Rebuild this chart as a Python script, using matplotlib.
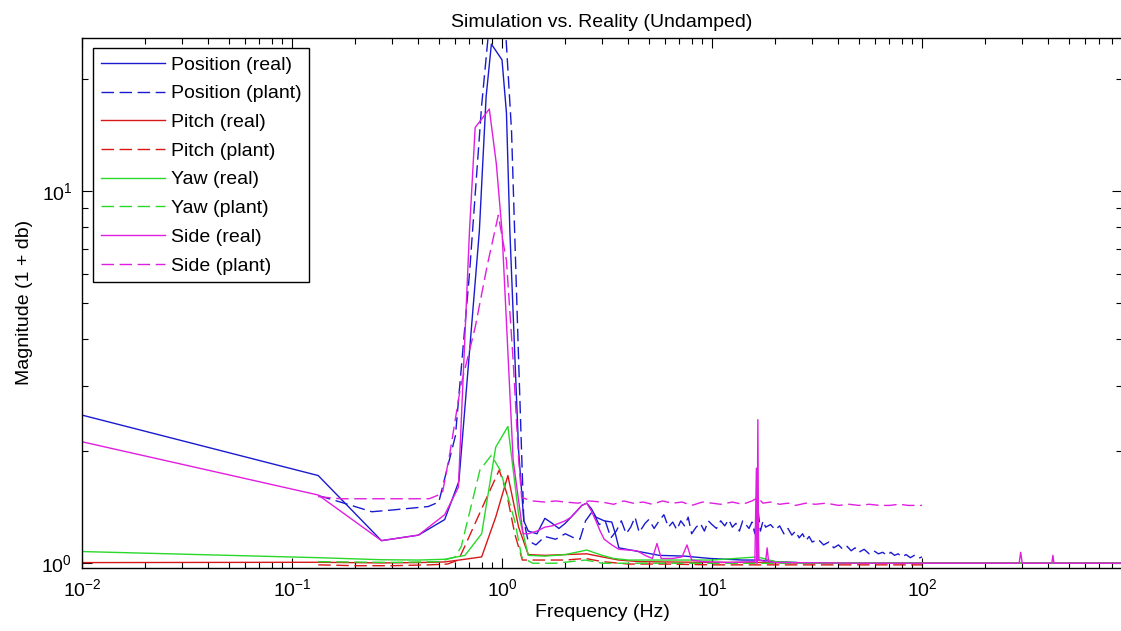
import numpy as np
import matplotlib
matplotlib.use("Agg")
import matplotlib.pyplot as plt
from matplotlib.ticker import LogLocator, NullFormatter

plt.rcParams['font.family'] = ['Liberation Sans', 'DejaVu Sans']
plt.rcParams['mathtext.default'] = 'regular'

# ============================================================
# DATA
# ============================================================
pos_real_f = [0.01, 0.1333, 0.2667, 0.4, 0.5333, 0.6233, 0.78, 0.84, 0.89, 1.0, 1.05, 1.09,
              1.2, 1.27, 1.3333, 1.4667, 1.6, 1.7333, 1.8667, 2.0, 2.1333, 2.2667, 2.4,
              2.5333, 2.6667, 2.8, 3.0667, 3.3333, 3.4667, 3.6, 4.1, 4.9, 5.6, 7.4, 9.8,
              14, 16.4, 16.53, 16.67, 20, 30, 50, 100, 200, 400, 896]
pos_real_m = [2.50, 1.72, 1.15, 1.19, 1.31, 1.66, 7.8, 17.9, 24.8, 22.5, 16.2, 7.8,
              2.0, 1.3, 1.22, 1.2, 1.32, 1.28, 1.24, 1.28, 1.33, 1.38, 1.43,
              1.45, 1.4, 1.33, 1.3, 1.29, 1.2, 1.1, 1.085, 1.065, 1.05, 1.045, 1.03,
              1.02, 1.02, 1.38, 1.02, 1.01, 1.0, 1.0, 1.0, 1.0, 1.0, 1.0]

pos_plant_f = [0.1333, 0.17, 0.24, 0.30, 0.445, 0.5, 0.6, 0.7, 0.8, 0.88, 0.97, 1.04, 1.11,
               1.2, 1.27, 1.33, 1.45, 1.6, 1.8, 2.0, 2.2, 2.35, 2.5, 2.7, 2.9, 3.1, 3.3,
               3.5, 3.7, 3.9, 4.1, 4.3, 4.5, 4.8, 5.0, 5.3, 5.6, 5.9, 6.2, 6.5, 6.8, 7.1,
               7.4, 7.7, 8.0, 8.4, 8.8, 9.2, 9.6, 10.0, 10.5, 11.0, 11.5, 12.0, 12.5, 13.0,
               13.5, 14.0, 14.5, 15.0, 15.5, 16.0, 16.5, 17.0, 17.5, 18, 19, 20, 21, 22,
               23, 24, 25, 26, 27, 28, 29, 30, 32, 34, 36, 38, 40, 42, 44, 46, 48, 50,
               53, 56, 59, 62, 65, 68, 71, 74, 77, 80, 84, 88, 92, 96, 100]
pos_plant_m = [1.52, 1.46, 1.375, 1.39, 1.42, 1.46, 2.2, 6.0, 17, 30, 32, 27, 14.5,
               3.5, 1.3, 1.15, 1.12, 1.18, 1.16, 1.2, 1.17, 1.16, 1.3, 1.38, 1.27, 1.3, 1.17,
               1.22, 1.3, 1.2, 1.25, 1.33, 1.21, 1.28, 1.31, 1.24, 1.3, 1.35, 1.25, 1.29, 1.23, 1.3,
               1.26, 1.33, 1.2, 1.25, 1.28, 1.22, 1.3, 1.27, 1.24, 1.3, 1.26, 1.31, 1.25, 1.28,
               1.22, 1.3, 1.27, 1.24, 1.29, 1.2, 1.42, 1.22, 1.3, 1.25, 1.27, 1.23, 1.26, 1.2,
               1.24, 1.19, 1.22, 1.17, 1.2, 1.15, 1.18, 1.14, 1.16, 1.12, 1.14, 1.1, 1.12, 1.09,
               1.11, 1.08, 1.1, 1.07, 1.09, 1.06, 1.08, 1.06, 1.07, 1.05, 1.07, 1.05, 1.06, 1.04,
               1.055, 1.035, 1.05, 1.03, 1.04]

pitch_real_f = [0.01, 0.1333, 0.2667, 0.4, 0.5333, 0.6667, 0.8, 0.9333, 1.0667, 1.2, 1.3333,
                1.6, 2.0, 2.5333, 3.0, 3.6, 4.5, 6, 10, 16.5, 20, 50, 100, 896]
pitch_real_m = [1.004, 1.006, 1.002, 1.004, 1.008, 1.025, 1.04, 1.33, 1.72, 1.25, 1.055,
                1.05, 1.055, 1.06, 1.04, 1.02, 1.01, 1.008, 1.005, 1.005, 1.003, 1.0, 1.0, 1.0]

pitch_plant_f = [0.1333, 0.2, 0.3, 0.45, 0.55, 0.62, 0.66, 0.8, 0.97, 1.05, 1.15, 1.25, 1.4,
                 1.7, 2.0, 2.5, 3.0, 4, 6, 10, 20, 50, 100]
pitch_plant_m = [0.99, 0.985, 0.985, 0.99, 0.995, 1.02, 1.1, 1.4, 1.78, 1.55, 1.2, 1.02, 1.02,
                 1.02, 1.02, 1.03, 1.01, 0.995, 0.995, 0.99, 0.99, 0.99, 0.99]

yaw_real_f = [0.01, 0.1333, 0.2667, 0.4, 0.5333, 0.6667, 0.8, 0.9333, 1.0667, 1.2, 1.3333,
              1.6, 2.0, 2.5333, 3.0, 3.4, 4.0, 6, 10, 16.5, 20, 30, 100, 896]
yaw_real_m = [1.075, 1.035, 1.022, 1.02, 1.025, 1.05, 1.2, 2.05, 2.33, 1.35, 1.05,
              1.045, 1.055, 1.085, 1.05, 1.03, 1.02, 1.02, 1.02, 1.04, 1.01, 1.0, 1.0, 1.0]

yaw_plant_f = [0.1333, 0.3, 0.5, 0.6, 0.64, 0.785, 0.89, 0.98, 1.15, 1.24, 1.4, 1.8, 2.5,
               3.0, 4, 6, 10, 20, 50, 100]
yaw_plant_m = [1.01, 1.005, 1.01, 1.04, 1.11, 1.78, 1.95, 1.78, 1.3, 1.04, 1.0, 1.0, 1.02,
               1.0, 1.0, 1.0, 1.0, 1.0, 1.0, 1.0]

side_real_f = [0.01, 0.1333, 0.2667, 0.4, 0.5333, 0.62, 0.70, 0.745, 0.87, 0.94, 1.0, 1.13,
               1.26, 1.3333, 1.4667, 1.6, 1.7333, 1.8667, 2.0, 2.1333, 2.2667, 2.4, 2.5333,
               2.6667, 2.8, 2.9333, 3.0667, 3.3333, 3.6, 4.0, 4.4, 4.8, 5.2, 5.47, 5.73,
               6.5, 7.2, 7.6, 8.0, 9, 12, 16.0, 16.27, 16.4, 16.53, 16.67, 18.0, 18.3,
               18.6, 20, 50, 100, 290, 295, 300, 415, 420, 425, 896]
side_real_m = [2.12, 1.525, 1.15, 1.19, 1.35, 1.6, 7.8, 14.8, 16.6, 11.8, 7.8, 1.89,
               1.2, 1.2, 1.22, 1.25, 1.26, 1.28, 1.3, 1.33, 1.38, 1.43, 1.45,
               1.38, 1.3, 1.22, 1.16, 1.12, 1.09, 1.085, 1.08, 1.05, 1.03, 1.13, 1.03,
               1.03, 1.04, 1.12, 1.02, 1.01, 1.005, 1.01, 1.8, 1.0, 2.43, 1.02, 1.01, 1.1,
               1.01, 1.005, 1.0, 1.0, 1.0, 1.07, 1.0, 1.0, 1.05, 1.0, 1.0]

side_plant_f = [0.1333, 0.17, 0.3, 0.45, 0.52, 0.565, 0.635, 0.745, 0.85, 0.96, 1.05, 1.13,
                1.2, 1.24, 1.4, 1.6, 1.8, 2.0, 2.3, 2.6, 3.0, 3.4, 3.8, 4.2, 4.7, 5.2, 5.8,
                6.5, 7.2, 8.0, 9.0, 10, 11, 12.5, 14, 15.5, 16.5, 17.5, 19, 21, 23, 25, 28,
                31, 35, 40, 45, 50, 56, 63, 70, 78, 86, 93, 100]
side_plant_m = [1.51, 1.49, 1.49, 1.49, 1.54, 1.98, 2.98, 4.3, 6.3, 8.6, 6.5, 3.5,
                1.9, 1.5, 1.47, 1.46, 1.47, 1.46, 1.45, 1.47, 1.46, 1.44, 1.47, 1.45, 1.46, 1.44, 1.47,
                1.45, 1.46, 1.43, 1.46, 1.45, 1.44, 1.46, 1.44, 1.47, 1.5, 1.45, 1.46, 1.44, 1.45, 1.43, 1.45,
                1.44, 1.45, 1.43, 1.44, 1.43, 1.44, 1.43, 1.43, 1.44, 1.43, 1.43, 1.43]

# ============================================================
# PLOT
# ============================================================
BLUE, RED, GREEN, MAG = '#1a1ad0', '#d81818', '#2ad82a', '#e01ee0'
DASH = (9, 4)

fig = plt.figure(figsize=(11.21, 6.31), dpi=100)
ax = fig.add_axes([82 / 1121, 1 - 568 / 631, 1040 / 1121, 530.3 / 631])

series = [
    (pos_real_f, pos_real_m, BLUE, False, "Position (real)"),
    (pos_plant_f, pos_plant_m, BLUE, True, "Position (plant)"),
    (pitch_real_f, pitch_real_m, RED, False, "Pitch (real)"),
    (pitch_plant_f, pitch_plant_m, RED, True, "Pitch (plant)"),
    (yaw_real_f, yaw_real_m, GREEN, False, "Yaw (real)"),
    (yaw_plant_f, yaw_plant_m, GREEN, True, "Yaw (plant)"),
    (side_real_f, side_real_m, MAG, False, "Side (real)"),
    (side_plant_f, side_plant_m, MAG, True, "Side (plant)"),
]
for f, m, c, dashed, lab in series:
    if dashed:
        ax.plot(f, m, color=c, lw=1.0, dashes=DASH, label=lab)
    else:
        ax.plot(f, m, color=c, lw=1.0, label=lab)

ax.set_xscale('log')
ax.set_yscale('log')
ax.set_xlim(0.01, 896)
ax.set_ylim(0.971, 25.8)

ax.xaxis.set_major_locator(LogLocator(base=10))
ax.xaxis.set_minor_locator(LogLocator(base=10, subs=np.arange(2, 10)))
ax.yaxis.set_minor_locator(LogLocator(base=10, subs=np.arange(2, 10)))
ax.xaxis.set_minor_formatter(NullFormatter())
ax.yaxis.set_minor_formatter(NullFormatter())

ax.tick_params(which='both', direction='in', top=True, right=True, width=0.8,
               labelsize=14, colors='black')
ax.tick_params(which='major', length=7)
ax.tick_params(which='minor', length=4)
ax.tick_params(axis='x', pad=7)
ax.tick_params(axis='y', pad=7)
for s in ax.spines.values():
    s.set_linewidth(1.0)

ax.set_title("Simulation vs. Reality (Undamped)", fontsize=14, pad=8)
ax.set_xlabel("Frequency (Hz)", fontsize=14, labelpad=3)
ax.set_ylabel("Magnitude (1 + db)", fontsize=14, labelpad=6)

leg = ax.legend(loc='upper left', bbox_to_anchor=(0.0105, 0.980), borderaxespad=0,
                fontsize=14, fancybox=False, framealpha=1, edgecolor='black',
                handlelength=3.3, handletextpad=0.3, labelspacing=0.57, borderpad=0.4)
leg.get_frame().set_linewidth(1.0)

fig.savefig("out.png", dpi=100)
